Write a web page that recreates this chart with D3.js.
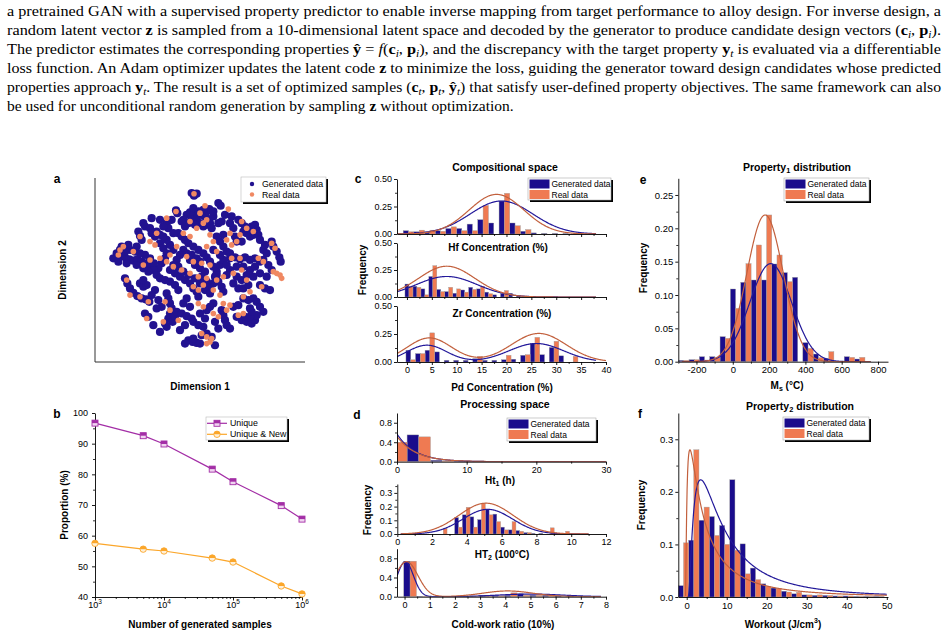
<!DOCTYPE html>
<html>
<head>
<meta charset="utf-8">
<script src="https://cdn.jsdelivr.net/npm/d3@7"></script>
<style>
  body { margin: 0; background: #fff; }
  svg { display: block; }
</style>
</head>
<body>
<div id="chart"></div>
<script>
// ---------- data ----------
const paragraph = [
  [["a pretrained GAN with a supervised property predictor to enable inverse mapping from target performance to alloy design. For inverse design, a"]],
  [["random latent vector "], ["z", "b"], [" is sampled from a 10-dimensional latent space and decoded by the generator to produce candidate design vectors ("], ["c", "b"], ["i", "s"], [", "], ["p", "b"], ["i", "s"], [")."]],
  [["The predictor estimates the corresponding properties "], ["ŷ", "b"], [" = "], ["f", "i"], ["("], ["c", "b"], ["i", "s"], [", "], ["p", "b"], ["i", "s"], ["), and the discrepancy with the target property "], ["y", "b"], ["t", "s"], [" is evaluated via a differentiable"]],
  [["loss function. An Adam optimizer updates the latent code "], ["z", "b"], [" to minimize the loss, guiding the generator toward design candidates whose predicted"]],
  [["properties approach "], ["y", "b"], ["t", "s"], [". The result is a set of optimized samples ("], ["c", "b"], ["t", "s"], [", "], ["p", "b"], ["t", "s"], [", "], ["ŷ", "b"], ["t", "s"], [") that satisfy user-defined property objectives. The same framework can also"]],
  [["be used for unconditional random generation by sampling "], ["z", "b"], [" without optimization."]]
];

// panel a: t-SNE embedding
const tsneGenerated = [
  [-5,46],[-2,45.6],[-3.6,44.4],[5.6,36.4],[4,35],[11,40],[12.4,38.4],[-14.4,35.6],[-13.6,34],
  [-8,33],[-6,34.4],[-4,33],[-1,35],[1,33],[3,32],[5,30.4],[-2,31],[-5,30],[-7,28],[-9,26],[0,28],[2,26],[4,27],[-3,27],[6,28],
  [11,28],[13,29],[-34,28],[-33,26],[-26,23],[-24,21],[-27,20],[-37,23],[-36,20.4],[-35,18],[-20,28],[-19,25],
  [23,30],[25,28],[27,26],[29,24],[31,26],[33,27],[34,24],[35,21],[32,21],[30,20],[28,22],[26,23],
  [21,20],[22,17],[25,17],[43,17],[44,14],[46,11],[47.6,7.6],[48.4,5],[38,12],[40,10],[33,7],[36,5],[38,6],
  [18,7],[21,7.6],[24,6.4],[27,7.6],[30,6],[14,14],[16,11],[18,10],[10,20],[12,17],[14,21],
  [-13,22],[-11,20],[-9,18],[-7,16],[-4,14],[-1,12],[2,10],[4,7.6],[6,5],[8,2],[10,-1],[9,-4],[11,-7],[13,-10],[14,-13],
  [-10,12],[-12,9],[-14,6],[-16,3],[-18,0],[-15,-2],[-12,-4],[-9,-6],[-6,-8],[-4,-11],[-2,-13],[-1,-16],
  [-6,6],[-3,3],[0,1],[3,-1],[1,-4],[4,-7],[6,-10],[-24,16],[-22,13],[-20,10],[-21,7],[-23,4],[-25,1],
  [-50,10],[-47.6,8.4],[-45,7.6],[-42.4,6.4],[-40,5.6],[-37.6,6.4],[-35,5],[-32.4,4],[-30,3],[-27.6,4],[-30,7],[-33,9],[-36,10],[-39,11],[-42,12],[-45,11],[-48,12],
  [-28,0],[-26,-3],[-24,-5],[-21,-6],[-18,-7],[-15,-9],[-13,-12],
  [-45,-5],[-43.6,-8],[-42,-11],[-40,-13.6],[-37.6,-15.6],[-35,-17],[-32.4,-17.6],[-30.4,-19],
  [-36,-8],[-34,-10],[-32,-9],[-34,-6],[-33,-26],[-31,-28],
  [-20,-14],[-19,-17],[-18,-20],[-17,-23],[-18,-26],[-19,-29],[-16.4,-31],[-15,-28],[-14,-25],[-21,-32],[-20,-34],
  [-11,-26],[-8,-27.6],[-5,-29],[-4,-31],[-1,-33],[2,-34],[4,-24],[6,-22],[8,-20],
  [13,-24],[14,-27],[15,-30],[16,-33],[18,-35],[22,-28],[25,-30],[28,-31],[31,-32],[33,-30],[34,-27],[30,-28],[27,-28],
  [26,-17],[29,-18],[32,-17],[34,-19],[30,-23],[31,-25],
  [22,-4],[25,-6],[28,-3],[30,0],[32,-4],[36,-9],[39,-11],[42,-12],[18,0],[16,-3],
  [-7,-42],[-4.4,-43],[-2,-43.6],[-4,-41],[1,-39],[4,-38],[7,-40],[0,-44],
  [-10,30],[-4,37],[2,36],[8,32],[7,25],[-11,29],[-30,25],[-29,22],[-22,26],[-17,30],[-16,22],
  [-52,7],[-49,5],[-44,4],[-38,3],[-34,1],[-31,-1],[-47,14],[-43,15],[-38,14],
  [-8,10],[-5,9],[-2,7],[0,5],[-13,2],[-10,-1],[-7,-3],[-3,-5],[0,-8],[3,-12],[6,-14],[8,-8],[10,-3],[12,3],[14,6],[16,3],[12,9],[8,12],
  [-16,12],[-18,15],[-20,18],[-22,20],
  [20,25],[18,28],[36,18],[39,15],[41,3],[43,0],[40,-4],[36,-2],[33,2],[26,2],[22,2],[20,-8],[23,-11],[26,-11],[29,-9],
  [-27,-12],[-29,-15],[-25,-18],[-23,-22],[-10,-20],[-8,-17],[-6,-22],[0,-26],[3,-29],[9,-31],[11,-35],[20,-22],[23,-21],[36,-22],[38,-25],
  [-26,-23],[-28,-33],[-24,-37],[-12,-36],[-9,-33],[9,-45],[-9,-44],
  [8,35],[15,33],[19,32],[-24,30],[-29,31]
];
const tsneReal = [
  [-3.6,45.6],[3,38.4],[17,36.4],[-14.4,35],[0,34],[4,30],[-6,29],[2,28],[-2,25],[-20,31],[-26,22],[-36,20],
  [-48,12],[-46,14],[-40,11],[-49,9],[-30,6],[-34,3],
  [25,29],[28,25],[24,21],[32,23],[22,17],[19,15],[43,16],[45,13],[35,7],[38,5],
  [46,-2],[49,-5],[48,-3],[44,-1],[37,-10],[19,7],[24,7],
  [-10,22],[-6,20],[6,21],[8,17],[4,14],[10,11],
  [-14,14],[-18,9],[-8,8],[-4,5],[1,4],[6,3],[-20,5],[-16,2],[-24,7],
  [-11,0],[-6,-2],[-1,-4],[4,-5],[10,-6],[14,-4],
  [-4,-10],[-1,-12],[2,-9],[8,-12],[12,-15],[20,-2],[25,0],[28,-6],
  [-44,-6],[-42,-15],[-31,-19],[-36,-16],[-32,-29],[-21,-19],[-18,-24],[-22,-31],[-13,-30],
  [1,-38],[4,-40],[6,-43],[4,-44],[7,-41],
  [14,-20],[18,-21],[16,-24],[23,-27],[26,-26],[11,-28],[8,-26],[30,-13],[26,-16],[2,-22],[-1,-20],
  [18,22],[16,18],[-27,15],[-30,17]
];

// panel b
const sampleCounts = [1e3, 5e3, 1e4, 5e4, 1e5, 5e5, 1e6];
const uniquePct = [96.7, 92.6, 89.9, 81.7, 77.6, 69.8, 65.4];
const uniqueNewPct = [57.5, 55.6, 55.0, 52.7, 51.4, 43.6, 41.0];

// histograms: bin = [first edge, bin width]; values = frequency
const legendNames = ["Generated data", "Real data"];

const hfBin = [-0.75, 2.14];
const hfGen  = [0.03, 0.02, 0.02, 0.03, 0.05, 0.05, 0.09, 0.13, 0.10, 0.30, 0.10, 0.025, 0.01, 0.005, 0.005, 0.004, 0.003];
const hfReal = [0.02, 0.035, 0.035, 0.025, 0.065, 0.03, 0.03, 0.26, 0, 0.37, 0.075, 0.04, 0, 0, 0, 0, 0];
const hfFitGen = [[0.30, 19, 6.3]], hfFitReal = [[0.36, 18, 5.5]];

const zrBin = [-0.4, 1.6];
const zrGen  = [0.12, 0.10, 0.075, 0.19, 0.07, 0.05, 0.035, 0.065, 0.09, 0.075, 0.045, 0.02, 0.03, 0.035, 0.01];
const zrReal = [0.10, 0.09, 0.02, 0.29, 0.05, 0.09, 0.075, 0.045, 0.07, 0.10, 0.03, 0, 0.06, 0, 0];
const zrFitGen = [[0.19, 8, 6.1]], zrFitReal = [[0.285, 8, 5.66]];

const pdBin = [-0.2, 1.92];
const pdGen  = [0.105, 0.075, 0.105, 0.09, 0.015, 0.015, 0.015, 0.03, 0.015, 0.015, 0.02, 0.025, 0.06, 0.165, 0.065, 0.13, 0.055, 0, 0];
const pdReal = [0.02, 0.075, 0.26, 0, 0, 0, 0, 0.05, 0, 0, 0.06, 0, 0.065, 0.22, 0, 0.185, 0, 0.05, 0];
const pdFitGen = [[0.15, 4, 4], [0.165, 26, 5.5]], pdFitReal = [[0.215, 4.5, 4.5], [0.255, 26.5, 5.5]];

const ht1Bin = [-1.9, 3.35];
const ht1Gen  = [0.45, 0.55, 0.03, 0.01, 0.005, 0, 0, 0.004, 0];
const ht1Real = [0.40, 0.51, 0.015, 0.008, 0.004, 0, 0, 0, 0];
const ht1FitGen = [0.57, 2.6], ht1FitReal = [0.52, 2.7];

const ht2Bin = [2.42, 0.44];
const ht2Gen  = [0, 0, 0.12, 0.14, 0.125, 0.105, 0.18, 0.145, 0.05, 0.03, 0.025, 0.01, 0.005, 0.005, 0, 0, 0];
const ht2Real = [0.04, 0, 0.05, 0.195, 0.05, 0.225, 0.14, 0.09, 0.03, 0.09, 0.02, 0.01, 0, 0, 0.045, 0, 0.02];
const ht2FitGen = [[0.18, 5.2, 1.43]], ht2FitReal = [[0.225, 5.1, 1.56]];

const coldBin = [-0.03, 0.5];
const coldGen  = [0.74, 0.01, 0, 0, 0.005, 0.01, 0.03, 0.03, 0.03, 0.06, 0.03, 0.03, 0.02, 0.01, 0.005];
const coldReal = [0.74, 0.01, 0, 0, 0.005, 0.01, 0.03, 0.02, 0.08, 0.03, 0.03, 0.02, 0, 0, 0];
const coldFitGen = [[0.73, 0.03, 0.32], [0.055, 5, 1.3]], coldFitReal = [[0.73, 0.08, 0.45], [0.12, 4.1, 1.0]];

const msBin = [-298, 57];
const msGen  = [0.002, 0.003, 0.0075, 0.0075, 0.0375, 0.109, 0.119, 0.1225, 0.1225, 0.1465, 0.1335, 0.1265, 0.0285, 0.0115, 0.005, 0, 0.0075, 0.004];
const msReal = [0.002, 0.003, 0.0025, 0.0065, 0.035, 0.08, 0.147, 0.175, 0.22, 0.16, 0.12, 0, 0.02, 0.006, 0.015, 0, 0.0065, 0.0065];
const msFitGen = [[0.147, 209, 115]], msFitReal = [[0.22, 178, 100]];

const woBin = [-2.08, 2.57];
const woGen  = [0.0215, 0.108, 0.146, 0.153, 0.136, 0.223, 0.101, 0.055, 0.025, 0.017, 0.011, 0.006, 0.004, 0.003, 0.003, 0.002, 0.002, 0.001, 0.001, 0.001];
const woReal = [0.103, 0.28, 0.171, 0.117, 0.10, 0.089, 0.044, 0.033, 0.02, 0.016, 0.0095, 0.009, 0.004, 0.004, 0.003, 0.002, 0.002, 0.001, 0.001, 0.001];
const woFitGen = {x0: 0.3, mode: 3.2, s: 1.0, peak: 0.223};
const woFitReal = {x0: -0.3, mode: 1.1, s: 1.28, peak: 0.28};

// ---------- drawing ----------
const NAVY = "#1a0c8c", CORAL = "#ef7a52";
const NAVY_LINE = "#23199a", CORAL_LINE = "#c2603d";
const FONT = "Liberation Sans, Arial, sans-serif";

const svg = d3.select("#chart").append("svg")
  .attr("width", 948).attr("height", 636)
  .attr("font-family", FONT);

// paragraph
const para = svg.append("g")
  .attr("font-family", "Liberation Serif, Times New Roman, serif")
  .attr("font-size", 15.5).attr("fill", "#000");
paragraph.forEach((line, i) => {
  const last = i === paragraph.length - 1;
  const t = para.append("text").attr("x", 7).attr("y", 15.5 + i * 19);
  if (!last) t.attr("textLength", 934).attr("lengthAdjust", "spacingAndGlyphs");
  let shifted = false;
  line.forEach(([s, st]) => {
    const ts = t.append("tspan").text(s);
    if (st === "b") ts.attr("font-weight", "bold");
    if (st === "i") ts.attr("font-style", "italic");
    if (st === "s") {
      ts.attr("font-style", "italic").attr("font-size", 11).attr("dy", 3);
      shifted = true;
    } else if (shifted) {
      ts.attr("dy", -3);
      shifted = false;
    }
  });
});

function txt(x, y, parts, o = {}) {
  const size = o.size || 10;
  const t = svg.append("text")
    .attr("transform", `translate(${x},${y})` + (o.rotate ? ` rotate(${o.rotate})` : ""))
    .attr("text-anchor", o.anchor || "middle")
    .attr("dominant-baseline", "central")
    .attr("font-size", size)
    .attr("font-weight", o.bold === false ? "normal" : "bold");
  if (typeof parts === "string") parts = [[parts]];
  let shift = 0;
  parts.forEach(([s, kind]) => {
    const ts = t.append("tspan").text(s);
    const target = kind === "sub" ? size * 0.3 : kind === "sup" ? -size * 0.4 : 0;
    if (target !== shift) { ts.attr("dy", target - shift); shift = target; }
    if (kind) ts.attr("font-size", size * 0.7);
  });
  return t;
}

function styleAxis(sel, size) {
  sel.attr("font-family", FONT).attr("font-size", size);
  sel.selectAll("path,line").attr("stroke", "#000").attr("stroke-width", 0.9);
  sel.selectAll("text").attr("fill", "#000");
}

function minorAxis(transform, axis) {
  const g = svg.append("g").attr("transform", transform).call(axis.tickSize(2).tickFormat(""));
  g.select(".domain").remove();
  g.selectAll("line").attr("stroke", "#000").attr("stroke-width", 0.8);
}

function gaussSum(params) {
  return v => d3.sum(params, ([a, m, s]) => a * Math.exp(-((v - m) ** 2) / (2 * s * s)));
}
function expDecay([a, tau]) {
  return v => a * Math.exp(-v / tau);
}
function logNormal({x0, mode, s, peak}) {
  const mu = Math.log(mode) + s * s;
  const ref = (Math.log(mode) - mu) ** 2;
  return v => {
    const t = v - x0;
    if (t <= 0) return 0;
    return peak * (mode / t) * Math.exp(-((Math.log(t) - mu) ** 2 - ref) / (2 * s * s));
  };
}

let clipCount = 0;
function histPlot(o) {
  const x = d3.scaleLinear().domain(o.xDom).range([o.x0, o.x1]);
  const y = d3.scaleLinear().domain(o.yDom).range([o.y1, o.y0]);
  const id = "clip" + clipCount++;
  svg.append("clipPath").attr("id", id).append("rect")
    .attr("x", o.x0).attr("y", o.y0 - 30)
    .attr("width", o.x1 - o.x0).attr("height", o.y1 - o.y0 + 30);
  const g = svg.append("g").attr("clip-path", `url(#${id})`);
  const [start, w] = o.bin;
  [[o.gen, 0, NAVY], [o.real, 0.5, CORAL]].forEach(([vals, off, col]) => {
    const rows = vals.map((v, i) => ({v, i})).filter(d => d.v > 0);
    g.append("g").selectAll("rect").data(rows).join("rect")
      .attr("x", d => x(start + (d.i + off) * w))
      .attr("width", x(start + w / 2) - x(start))
      .attr("y", d => y(d.v))
      .attr("height", d => y(0) - y(d.v))
      .attr("fill", col)
      .attr("stroke", "#9c9c9c").attr("stroke-width", 0.4);
  });
  o.fits.forEach(([fn, range, col]) => {
    const step = (range[1] - range[0]) / 400;
    const xs = d3.range(range[0], range[1], step).concat([range[1]]);
    g.append("path").datum(xs)
      .attr("d", d3.line().x(v => x(v)).y(v => y(Math.min(fn(v), o.yDom[1] * 1.2))))
      .attr("fill", "none").attr("stroke", col).attr("stroke-width", 1.2);
  });

  const fs = o.fontSize || 9;
  const yA = svg.append("g").attr("transform", `translate(${o.x0},0)`)
    .call(d3.axisLeft(y).tickValues(o.yTicks).tickSize(3).tickSizeOuter(0)
      .tickPadding(2).tickFormat(d3.format(o.yFmt)));
  styleAxis(yA, fs);
  minorAxis(`translate(${o.x0},0)`, d3.axisLeft(y).tickValues(o.yMinor));

  const xA = svg.append("g").attr("transform", `translate(0,${o.y1})`)
    .call(d3.axisBottom(x).tickValues(o.xTicks).tickSize(3).tickSizeOuter(0)
      .tickPadding(2).tickFormat(o.xLabels ? (d => String(d)) : ""));
  styleAxis(xA, fs);
  minorAxis(`translate(0,${o.y1})`, d3.axisBottom(x).tickValues(o.xMinor));
  return {x, y};
}

function histLegend(x, y, w, h) {
  svg.append("rect").attr("x", x + 2).attr("y", y + 2).attr("width", w).attr("height", h).attr("fill", "#000");
  svg.append("rect").attr("x", x).attr("y", y).attr("width", w).attr("height", h)
    .attr("fill", "#fff").attr("stroke", "#aaa").attr("stroke-width", 0.6);
  legendNames.forEach((name, i) => {
    svg.append("rect").attr("x", x + 1.5).attr("y", y + 1.5 + i * 10.5)
      .attr("width", 20).attr("height", 9).attr("fill", i ? CORAL : NAVY);
    svg.append("text").attr("x", x + 23.5).attr("y", y + 6 + i * 10.5)
      .attr("dominant-baseline", "central").attr("font-size", 8.5).text(name);
  });
}

// ---------- panel a ----------
{
  const x = d3.scaleLinear().domain([-63, 63]).range([95, 305]);
  const y = d3.scaleLinear().domain([-55, 55]).range([362, 178]);
  svg.append("path").attr("d", "M95,178V362H305").attr("fill", "none").attr("stroke", "#333").attr("stroke-width", 1);
  svg.append("g").selectAll("circle").data(tsneGenerated).join("circle")
    .attr("cx", d => x(d[0])).attr("cy", d => y(d[1])).attr("r", 4.1).attr("fill", "#221290");
  svg.append("g").selectAll("circle").data(tsneReal).join("circle")
    .attr("cx", d => x(d[0])).attr("cy", d => y(d[1])).attr("r", 2.8).attr("fill", "#f08862");
  // legend
  svg.append("rect").attr("x", 243).attr("y", 179).attr("width", 85).attr("height", 25).attr("fill", "#000");
  svg.append("rect").attr("x", 241).attr("y", 177).attr("width", 85).attr("height", 25)
    .attr("fill", "#fff").attr("stroke", "#bbb").attr("stroke-width", 0.6);
  legendNames.forEach((name, i) => {
    svg.append("circle").attr("cx", 252).attr("cy", 184 + i * 10.5).attr("r", 2.2).attr("fill", i ? "#f08862" : "#221290");
    svg.append("text").attr("x", 262).attr("y", 184 + i * 10.5).attr("dominant-baseline", "central")
      .attr("font-size", 8.8).text(name);
  });
  txt(57, 179, "a", {size: 12});
  txt(62, 270, "Dimension 2", {rotate: -90});
  txt(200, 386, "Dimension 1");
}

// ---------- panel b ----------
{
  const x = d3.scaleLog().domain([1e3, 1e6]).range([95, 302]);
  const y = d3.scaleLinear().domain([40, 100]).range([597, 413]);
  const yA = svg.append("g").attr("transform", "translate(95,0)")
    .call(d3.axisLeft(y).tickValues(d3.range(40, 101, 10)).tickSize(3).tickSizeOuter(0).tickPadding(4));
  styleAxis(yA, 9);
  minorAxis("translate(95,0)", d3.axisLeft(y).tickValues(d3.range(45, 100, 10)));
  const xA = svg.append("g").attr("transform", "translate(0,597)")
    .call(d3.axisBottom(x).tickValues([1e3, 1e4, 1e5, 1e6]).tickSize(3.5).tickSizeOuter(0).tickFormat(""));
  styleAxis(xA, 9);
  const minors = [];
  [1e3, 1e4, 1e5].forEach(dec => { for (let k = 2; k <= 9; k++) minors.push(dec * k); });
  minorAxis("translate(0,597)", d3.axisBottom(x).tickValues(minors));
  [3, 4, 5, 6].forEach(e => {
    const t = svg.append("text").attr("x", x(10 ** e)).attr("y", 608).attr("text-anchor", "middle").attr("font-size", 9);
    t.append("tspan").text("10");
    t.append("tspan").text(e).attr("font-size", 6.5).attr("dy", -4);
  });

  const series = [
    {vals: uniquePct, col: "#a32ea6", light: "#f0d4f0", shape: "square"},
    {vals: uniqueNewPct, col: "#fba62a", light: "#fff0d8", shape: "circle"}
  ];
  const marker = (cx, cy, s) => {
    if (s.shape === "square") {
      svg.append("rect").attr("x", cx - 3).attr("y", cy - 3).attr("width", 6).attr("height", 6)
        .attr("fill", s.light).attr("stroke", s.col).attr("stroke-width", 0.9);
      svg.append("rect").attr("x", cx - 3).attr("y", cy - 3).attr("width", 6).attr("height", 3).attr("fill", s.col);
    } else {
      svg.append("circle").attr("cx", cx).attr("cy", cy).attr("r", 3.2)
        .attr("fill", s.light).attr("stroke", s.col).attr("stroke-width", 0.9);
      svg.append("path").attr("d", `M${cx - 3.2},${cy}A3.2,3.2 0 0 1 ${cx + 3.2},${cy}Z`).attr("fill", s.col);
    }
  };
  series.forEach(s => {
    svg.append("path").datum(s.vals)
      .attr("d", d3.line().x((d, i) => x(sampleCounts[i])).y(d => y(d)))
      .attr("fill", "none").attr("stroke", s.col).attr("stroke-width", 1.2);
    s.vals.forEach((d, i) => marker(x(sampleCounts[i]), y(d), s));
  });
  // legend
  svg.append("rect").attr("x", 208).attr("y", 419).attr("width", 81).attr("height", 23).attr("fill", "#000");
  svg.append("rect").attr("x", 206).attr("y", 417).attr("width", 81).attr("height", 23)
    .attr("fill", "#fff").attr("stroke", "#bbb").attr("stroke-width", 0.6);
  ["Unique", "Unique & New"].forEach((name, i) => {
    const cy = 423.3 + i * 11;
    svg.append("line").attr("x1", 207).attr("x2", 227).attr("y1", cy).attr("y2", cy)
      .attr("stroke", series[i].col).attr("stroke-width", 1.2);
    marker(217, cy, series[i]);
    svg.append("text").attr("x", 230).attr("y", cy).attr("dominant-baseline", "central")
      .attr("font-size", 8.8).text(name);
  });
  txt(57, 414, "b", {size: 12});
  txt(64, 505, "Proportion (%)", {rotate: -90});
  txt(200, 624, "Number of generated samples");
}

// ---------- panel c ----------
{
  const common = {
    x0: 397, x1: 606, xDom: [-2, 40], yDom: [0, 0.5],
    yTicks: [0, 0.25, 0.5], yMinor: [0.125, 0.375], yFmt: ".2f",
    xTicks: d3.range(0, 41, 5), xMinor: d3.range(2.5, 40, 5)
  };
  histPlot({...common, y0: 179, y1: 234, bin: hfBin, gen: hfGen, real: hfReal,
    fits: [[gaussSum(hfFitGen), [-2, 38], NAVY_LINE], [gaussSum(hfFitReal), [-2, 38], CORAL_LINE]]});
  histPlot({...common, y0: 243, y1: 297, bin: zrBin, gen: zrGen, real: zrReal,
    fits: [[gaussSum(zrFitGen), [-2, 38], NAVY_LINE], [gaussSum(zrFitReal), [-2, 38], CORAL_LINE]]});
  histPlot({...common, y0: 306, y1: 362, bin: pdBin, gen: pdGen, real: pdReal, xLabels: true,
    fits: [[gaussSum(pdFitGen), [-2, 38], NAVY_LINE], [gaussSum(pdFitReal), [-2, 40], CORAL_LINE]]});
  histLegend(528, 178, 83, 22);
  txt(505, 167, "Compositional space", {size: 10.5});
  txt(358, 179, "c", {size: 12});
  txt(498, 247, "Hf Concentration (%)");
  txt(502, 313, "Zr Concentration (%)");
  txt(502, 387, "Pd Concentration (%)");
  txt(362, 270, "Frequency", {rotate: -90});
}

// ---------- panel d ----------
{
  histPlot({x0: 397, x1: 606, y0: 413, y1: 461.7, xDom: [0, 30], yDom: [0, 1],
    yTicks: [0, 0.4, 0.8], yMinor: [0.2, 0.6], yFmt: ".1f",
    xTicks: [0, 10, 20, 30], xMinor: [5, 15, 25], xLabels: true,
    bin: ht1Bin, gen: ht1Gen, real: ht1Real,
    fits: [[expDecay(ht1FitGen), [0, 30], NAVY_LINE], [expDecay(ht1FitReal), [0, 30], CORAL_LINE]]});
  histPlot({x0: 397.3, x1: 606, y0: 484, y1: 534, xDom: [0, 12], yDom: [0, 0.365],
    yTicks: [0, 0.1, 0.2, 0.3], yMinor: [0.05, 0.15, 0.25, 0.35], yFmt: ".1f",
    xTicks: d3.range(0, 13, 2), xMinor: d3.range(1, 12, 2), xLabels: true,
    bin: ht2Bin, gen: ht2Gen, real: ht2Real,
    fits: [[gaussSum(ht2FitGen), [0.2, 11], NAVY_LINE], [gaussSum(ht2FitReal), [0.2, 11], CORAL_LINE]]});
  histPlot({x0: 397, x1: 606, y0: 548.7, y1: 596.7, xDom: [-0.3, 8], yDom: [0, 1],
    yTicks: [0, 0.4, 0.8], yMinor: [0.2, 0.6], yFmt: ".1f",
    xTicks: d3.range(0, 9, 1), xMinor: d3.range(0.5, 8, 1), xLabels: true,
    bin: coldBin, gen: coldGen, real: coldReal,
    fits: [[gaussSum(coldFitGen), [-0.3, 7.8], NAVY_LINE], [gaussSum(coldFitReal), [-0.3, 7.8], CORAL_LINE]]});
  histLegend(507, 418, 89, 23);
  txt(505, 404, "Processing space", {size: 10.5});
  txt(357, 415, "d", {size: 12});
  txt(500, 480, [["Ht"], ["1", "sub"], [" (h)"]]);
  txt(502, 554, [["HT"], ["2", "sub"], [" (100°C)"]]);
  txt(503, 624, "Cold-work ratio (10%)");
  txt(367, 510, "Frequency", {rotate: -90});
}

// ---------- panel e ----------
{
  histPlot({x0: 678.3, x1: 888, y0: 178.3, y1: 361.7, xDom: [-300, 855], yDom: [0, 0.275],
    yTicks: d3.range(0, 0.26, 0.05), yMinor: d3.range(0.025, 0.27, 0.05), yFmt: ".2f",
    xTicks: d3.range(-200, 801, 200), xMinor: d3.range(-300, 801, 200), xLabels: true, fontSize: 9.5,
    bin: msBin, gen: msGen, real: msReal,
    fits: [[gaussSum(msFitGen), [-280, 760], NAVY_LINE], [gaussSum(msFitReal), [-280, 760], CORAL_LINE]]});
  histLegend(784, 178, 85, 23);
  txt(797, 167, [["Property"], ["1", "sub"], [" distribution"]], {size: 10.5});
  txt(643, 180, "e", {size: 12});
  txt(643, 268, "Frequency", {rotate: -90});
  txt(787, 385, [["M"], ["s", "sub"], [" (°C)"]]);
}

// ---------- panel f ----------
{
  histPlot({x0: 678.3, x1: 888, y0: 413, y1: 597, xDom: [-2.1, 50.3], yDom: [0, 0.35],
    yTicks: [0, 0.1, 0.2, 0.3], yMinor: [0.05, 0.15, 0.25], yFmt: ".1f",
    xTicks: d3.range(0, 51, 10), xMinor: d3.range(5, 50, 10), xLabels: true, fontSize: 9.5,
    bin: woBin, gen: woGen, real: woReal,
    fits: [[logNormal(woFitGen), [0.32, 50], NAVY_LINE], [logNormal(woFitReal), [-0.28, 50], CORAL_LINE]]});
  histLegend(783, 417, 86, 23);
  txt(800, 406, [["Property"], ["2", "sub"], [" distribution"]], {size: 10.5});
  txt(640, 414, "f", {size: 12});
  txt(641, 505, "Frequency", {rotate: -90});
  txt(783, 624, [["Workout (J/cm"], ["3", "sup"], [")"]]);
}
</script>
</body>
</html>
